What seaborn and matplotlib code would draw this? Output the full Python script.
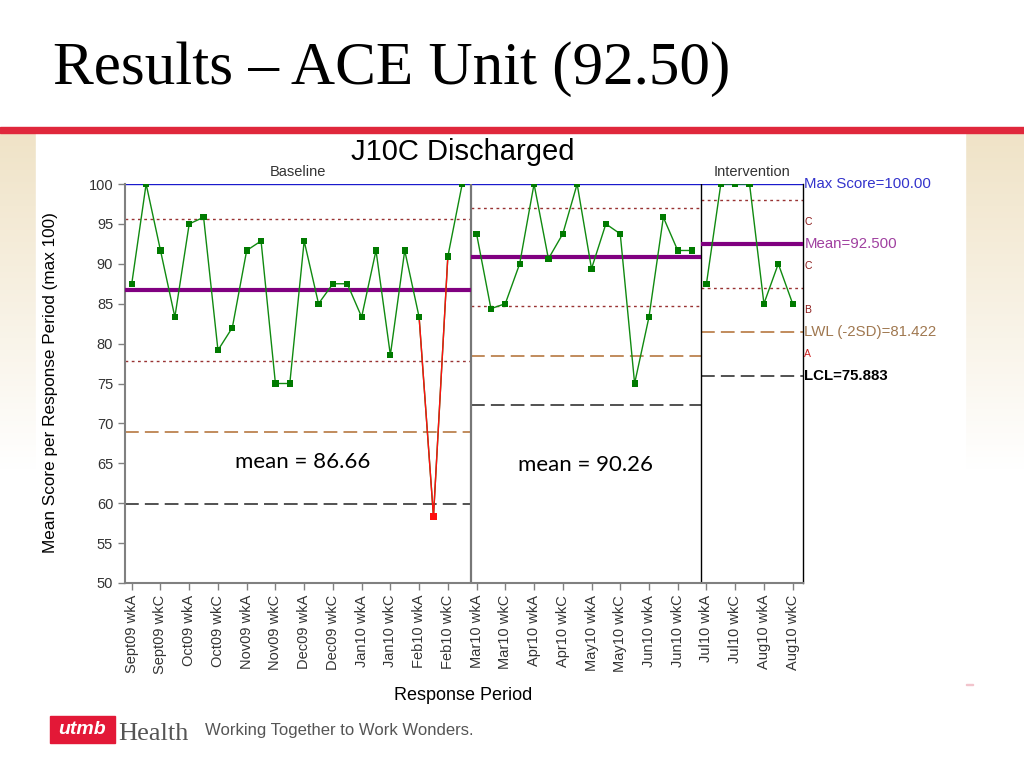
import numpy as np
import pandas as pd
import matplotlib
matplotlib.use("Agg")
import matplotlib.pyplot as plt
from matplotlib.patches import Rectangle
import seaborn as sns

sns.set_theme(style="white")
plt.rcParams["font.family"] = ["Liberation Sans", "DejaVu Sans"]

# etiquetas visibles (una de cada dos semanas)
tick_labels = ["Sept09 wkA", "Sept09 wkC", "Oct09 wkA", "Oct09 wkC", "Nov09 wkA", "Nov09 wkC",
               "Dec09 wkA", "Dec09 wkC", "Jan10 wkA", "Jan10 wkC", "Feb10 wkA", "Feb10 wkC",
               "Mar10 wkA", "Mar10 wkC", "Apr10 wkA", "Apr10 wkC", "May10 wkA", "May10 wkC",
               "Jun10 wkA", "Jun10 wkC", "Jul10 wkA", "Jul10 wkC", "Aug10 wkA", "Aug10 wkC"]

baseline = [87.5, 100, 91.67, 83.33, 95, 95.83, 79.17, 82, 91.67, 92.86, 75, 75,
            92.86, 85, 87.5, 87.5, 83.33, 91.67, 78.57, 91.67, 83.33, 58.33, 90.91, 100]
phase2 = [93.75, 84.38, 85, 90, 100, 90.63, 93.75, 100, 89.38, 95, 93.75, 75,
          83.33, 95.83, 91.67, 91.67]
intervention = [87.5, 100, 100, 100, 85, 90, 85]

phase_titles = ["Baseline", "", "Intervention"]
phase_means = [86.66, 90.85, 92.5]
phase_sd = [8.9, 6.2, 5.539]
out_of_control = [21]
red_segment = [20, 21, 22]
max_score = 100
mean_notes = ["mean = 86.66", "mean = 90.26"]
mean_note_pos = [(11.9, 65.2), (31.6, 64.8)]

phases = [baseline, phase2, intervention]
scores = baseline + phase2 + intervention
df = pd.DataFrame({
    "idx": np.arange(len(scores)),
    "score": scores,
    "phase": np.repeat([0, 1, 2], [len(p) for p in phases]),
})
df["flag"] = np.where(df["idx"].isin(out_of_control), "out", "ok")

W, H = 1024, 768
fig = plt.figure(figsize=(W / 100, H / 100), dpi=100)

# ---- fondo de la diapositiva ----
bg = fig.add_axes([0, 0, 1, 1])
bg.set_xlim(0, W)
bg.set_ylim(H, 0)
bg.axis("off")
beige = np.array([0.94, 0.89, 0.78])
t = np.linspace(0, 1, 200)[:, None]
grad = beige * (1 - t) + np.ones(3) * t
bg.imshow(grad[:, None, :].repeat(2, axis=1), extent=[0, W, 470, 133], aspect="auto")
bg.add_patch(Rectangle((36, 133), 929, H - 133, color="white", zorder=2))
bg.add_patch(Rectangle((0, 127), W, 6, color="#e0283c", zorder=3))
bg.add_patch(Rectangle((966, 683.5), 7, 1, color="#f2c4cc", zorder=3))
bg.text(53, 84, "Results \u2013 ACE Unit (92.50)", fontsize=44, family="Liberation Serif",
        color="black", va="baseline", ha="left", zorder=4)
bg.add_patch(Rectangle((50, 716), 65, 27, color="#e31837", zorder=3))
bg.text(82, 730, "utmb", color="white", fontsize=14, weight="bold", style="italic",
        ha="center", va="center", zorder=4)
bg.text(118, 740, "Health", color="#555555", fontsize=19, family="Liberation Serif",
        ha="left", va="baseline", zorder=4)
bg.text(205, 731, "Working Together to Work Wonders.", color="#555555", fontsize=12,
        ha="left", va="center", zorder=4)

# ---- gráfico de control ----
ax = fig.add_axes([125 / W, 1 - 583 / H, 678 / W, 399 / H])
ax.set_zorder(5)
x_lo, x_hi = -0.47, 46.72
starts = np.cumsum([0] + [len(p) for p in phases])
edges = [x_lo, starts[1] - 0.4, starts[2] - 0.4, x_hi]

ax.axhline(max_score, color="#1a1acc", lw=1, zorder=2)
for k in range(3):
    x0, x1 = edges[k], edges[k + 1]
    m, s = phase_means[k], phase_sd[k]
    ax.hlines([m + s, m - s], x0, x1, color="#993333", lw=1, ls=(0, (2, 2.5)), zorder=2)
    ax.hlines(m - 2 * s, x0, x1, color="#b06c30", lw=1.1, ls=(0, (9, 4)), zorder=2)
    ax.hlines(m - 3 * s, x0, x1, color="#222222", lw=1.1, ls=(0, (9, 4)), zorder=2)
    ax.hlines(m, x0, x1, color="#800080", lw=3, zorder=3)
    if phase_titles[k]:
        ax.text((x0 + x1) / 2, 100.6, phase_titles[k], ha="center", va="bottom",
                fontsize=10.5, color="#333333")
ax.axvline(edges[1], color="#777777", lw=1.6, zorder=2)
ax.axvline(edges[2], color="black", lw=1, zorder=2)

for k in range(3):
    sub = df[df["phase"] == k]
    sns.lineplot(data=sub, x="idx", y="score", ax=ax, color="#108a10", lw=1,
                 zorder=4, legend=False)
sns.lineplot(data=df[df["idx"].isin(red_segment)], x="idx", y="score", ax=ax,
             color="#ff1010", lw=1, zorder=4, legend=False)
sns.scatterplot(data=df, x="idx", y="score", hue="flag", ax=ax, marker="s", s=20,
                palette={"ok": "#007a00", "out": "#ff1010"}, edgecolor="none",
                legend=False, zorder=5)

for txt, (xp, yp) in zip(mean_notes, mean_note_pos):
    ax.text(xp, yp, txt, fontsize=16, family=["Lato", "DejaVu Sans"], ha="center",
            va="center", color="black")

# etiquetas de la derecha (fase de intervención)
m, s = phase_means[2], phase_sd[2]
ytr = ax.get_yaxis_transform()
right_labels = [
    (max_score, f"Max Score={max_score:.2f}", "#3333cc", 10.8, "normal"),
    (m + s / 2, "C", "#8b1a1a", 7.5, "normal"),
    (m, f"Mean={m:.3f}", "#a040a0", 10.8, "normal"),
    (m - s / 2, "C", "#8b1a1a", 7.5, "normal"),
    (m - 1.5 * s, "B", "#8b1a1a", 7.5, "normal"),
    (m - 2 * s, f"LWL (-2SD)={m - 2 * s:.3f}", "#a07850", 10.8, "normal"),
    (m - 2.5 * s, "A", "#cc2020", 7.5, "normal"),
    (m - 3 * s, f"LCL={m - 3 * s:.3f}", "black", 10.8, "bold"),
]
for yv, txt, col, fs, fw in right_labels:
    ax.text(1.002, yv, txt, transform=ytr, ha="left", va="center", color=col,
            fontsize=fs, weight=fw, clip_on=False)

ax.set_xlim(x_lo, x_hi)
ax.set_ylim(50, 100)
ax.set_yticks(np.arange(50, 101, 5))
ax.set_xticks(np.arange(0, len(scores), 2))
ax.set_xticklabels(tick_labels, rotation=90, fontsize=10.5, color="#333333")
ax.tick_params(axis="y", labelsize=10.5, labelcolor="#333333")
ax.tick_params(axis="both", direction="out", length=5, width=1, color="#808080",
               bottom=True, left=True)
ax.set_xlabel("")
ax.set_ylabel("")
ax.spines["top"].set_visible(False)
ax.spines["left"].set_color("#808080")
ax.spines["left"].set_linewidth(1.5)
ax.spines["bottom"].set_color("#808080")
ax.spines["bottom"].set_linewidth(1.5)
ax.spines["right"].set_color("black")
ax.spines["right"].set_linewidth(1)
ax.set_facecolor("white")

fig.text(463 / W, 1 - 152 / H, "J10C Discharged", fontsize=21, ha="center", va="center",
         color="black")
fig.text(463 / W, 1 - 696 / H, "Response Period", fontsize=13, ha="center", va="center",
         color="black")
fig.text(51 / W, 1 - 383 / H, "Mean Score per Response Period (max 100)", fontsize=12.3,
         rotation=90, ha="center", va="center", color="black")

fig.savefig("out.png", dpi=100)
